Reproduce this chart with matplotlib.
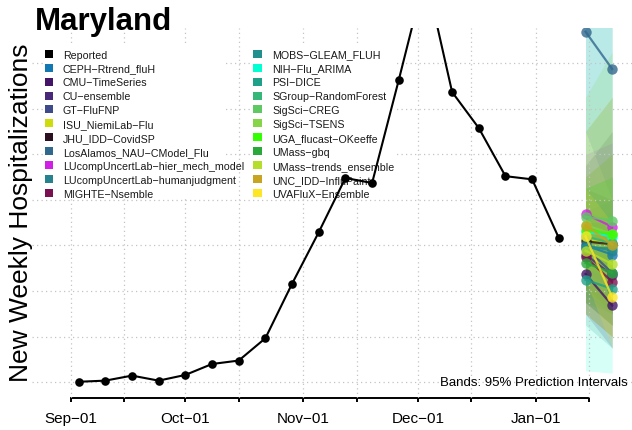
import matplotlib
matplotlib.use('Agg')
import matplotlib.pyplot as plt
import matplotlib.dates as mdates
from matplotlib.patches import Rectangle

plt.rcParams['font.family'] = ['Liberation Sans', 'DejaVu Sans']

# ---------------- data ----------------
reported_dates = ['2022-09-03', '2022-09-10', '2022-09-17', '2022-09-24', '2022-10-01',
                  '2022-10-08', '2022-10-15', '2022-10-22', '2022-10-29', '2022-11-05',
                  '2022-11-12', '2022-11-19', '2022-11-26', '2022-12-03', '2022-12-10',
                  '2022-12-17', '2022-12-24', '2022-12-31', '2023-01-07']
reported_values = [2, 7, 29, 7, 32, 80, 95, 193, 432, 658,
                   896, 874, 1326, 1791, 1273, 1115, 904, 890, 633]

forecast_dates = ['2023-01-14', '2023-01-21']

models = ['CEPH−Rtrend_fluH', 'CMU−TimeSeries', 'CU−ensemble', 'GT−FluFNP',
          'ISU_NiemiLab−Flu', 'JHU_IDD−CovidSP', 'LosAlamos_NAU−CModel_Flu',
          'LUcompUncertLab−hier_mech_model', 'LUcompUncertLab−humanjudgment',
          'MIGHTE−Nsemble', 'MOBS−GLEAM_FLUH', 'NIH−Flu_ARIMA', 'PSI−DICE',
          'SGroup−RandomForest', 'SigSci−CREG', 'SigSci−TSENS', 'UGA_flucast−OKeeffe',
          'UMass−gbq', 'UMass−trends_ensemble', 'UNC_IDD−InfluPaint', 'UVAFluX−Ensemble']
model_colors = ['#1278b4', '#431467', '#482878', '#3e4b8a', '#cddc0a', '#2a1020',
                '#31688e', '#d21fe6', '#26828e', '#7a1052', '#21908d', '#00ffd2',
                '#1fa088', '#35b779', '#5ec962', '#86d549', '#33ff00', '#2ba83a',
                '#b5de2b', '#c8a520', '#fde725']

point_h1 = [600, 475, 560, 590, 630, 618, 1538, 738, 600, 550, 590, 660, 449,
            640, 726, 690, 670, 523, 577, 687, 640]
point_h2 = [560, 337, 470, 480, 600, 605, 1374, 682, 577, 440, 590, 639, 410,
            610, 709, 650, 650, 480, 519, 604, 373]
lower_h1 = [380, 300, 350, 420, 400, 350, 1100, 500, 450, 300, 350, 50, 250,
            450, 400, 350, 500, 350, 300, 300, 450]
upper_h1 = [850, 700, 800, 760, 900, 950, 2000, 1000, 750, 850, 900, 1700, 700,
            850, 1100, 1250, 850, 700, 900, 1100, 850]
lower_h2 = [300, 150, 250, 300, 300, 250, 800, 400, 400, 200, 250, 40, 150,
            380, 300, 250, 450, 300, 200, 200, 150]
upper_h2 = [900, 650, 800, 700, 1000, 1100, 2000, 1050, 800, 800, 1000, 1800, 750,
            900, 1250, 1450, 900, 700, 1000, 1250, 700]

xtick_dates = ['2022-09-01', '2022-09-15', '2022-10-01', '2022-10-15', '2022-11-01',
               '2022-11-15', '2022-12-01', '2022-12-15', '2023-01-01', '2023-01-15']
xtick_labels = ['Sep−01', '', 'Oct−01', '', 'Nov−01', '', 'Dec−01', '', 'Jan−01', '']
ygrid_values = [0, 200, 400, 600, 800, 1000, 1200, 1400]

# ---------------- figure ----------------
W, H = 632, 431
fig = plt.figure(figsize=(W / 100, H / 100), dpi=100)
ax = fig.add_axes([32 / W, 1 - 398.5 / H, 600 / W, (398.5 - 29) / H])

rd = mdates.datestr2num(reported_dates)
fd = mdates.datestr2num(forecast_dates)
xt = mdates.datestr2num(xtick_dates)

# bands
for i, c in enumerate(model_colors):
    ax.fill_between(fd, [lower_h1[i], lower_h2[i]], [upper_h1[i], upper_h2[i]],
                    color=c, alpha=0.16, linewidth=0, zorder=1)

# grid (axis artists drawn at zorder 2.5)
ax.set_yticks(ygrid_values)
ax.set_xticks(xt)
ax.set_xticklabels(xtick_labels)
ax.grid(True, color='#c4c4c4', linestyle=(0, (1, 2.6)), linewidth=0.9)
ax.set_axisbelow(False)

# forecasts
for i, c in enumerate(model_colors):
    ax.plot(fd, [point_h1[i], point_h2[i]], color=c, lw=1.6, alpha=0.8,
            marker='o', markersize=7.5, markeredgewidth=0, zorder=3)

# reported
ax.plot(rd, reported_values, color='black', lw=1.5, marker='o', markersize=6.2,
        markeredgewidth=0, zorder=4)

sep1 = mdates.datestr2num('2022-09-01')
ax.set_xlim(sep1 - 10.24, sep1 + 147.2)
ax.set_ylim(-67, 1554)

for s in ['left', 'right', 'top']:
    ax.spines[s].set_visible(False)
ax.spines['bottom'].set_bounds(xt[0], xt[-1])
ax.spines['bottom'].set_linewidth(1.4)
ax.tick_params(axis='y', left=False, labelleft=False)
ax.tick_params(axis='x', direction='out', length=3, width=1.4, pad=6.5,
               labelsize=11, colors='black')

# text
fig.text(35 / W, 1 - 30 / H, 'Maryland', fontsize=22.5, fontweight='bold',
         ha='left', va='baseline')
fig.text(21.5 / W, 1 - 212.5 / H, 'New Weekly Hospitalizations', fontsize=19,
         rotation=90, ha='center', va='center')
fig.text(628 / W, 1 - 383 / H, 'Bands: 95% Prediction Intervals', fontsize=9.5,
         ha='right', va='center')

# legend: two columns with white backgrounds (above grid, under the data lines)
def fbox(x0, y0, x1, y1):
    return (x0 / W, 1 - y1 / H), (x1 - x0) / W, (y1 - y0) / H

for (x0, x1) in [(43, 226), (250, 395)]:
    xy, w, h = fbox(x0, 46, x1, 199)
    ax.add_patch(Rectangle(xy, w, h, transform=fig.transFigure, facecolor='white',
                           edgecolor='none', zorder=2.6, clip_on=False))

labels_all = ['Reported'] + models
colors_all = ['black'] + model_colors
n1 = 11
row0, dy = 54.8, 13.9
for k, (lab, c) in enumerate(zip(labels_all, colors_all)):
    col = 0 if k < n1 else 1
    r = k if k < n1 else k - n1
    yc = row0 + r * dy
    xs = 44.5 if col == 0 else 253.5
    xtxt = 62.8 if col == 0 else 272.5
    xy, w, h = fbox(xs, yc - 4, xs + 8, yc + 4)
    ax.add_patch(Rectangle(xy, w, h, transform=fig.transFigure, facecolor=c,
                           edgecolor='none', zorder=2.7, clip_on=False))
    ax.text(xtxt / W, 1 - (yc + 3.8) / H, lab, fontsize=7.7, color='#1a1a1a',
            ha='left', va='baseline', transform=fig.transFigure, zorder=2.7)

fig.savefig('out.png', dpi=100, facecolor='white')
